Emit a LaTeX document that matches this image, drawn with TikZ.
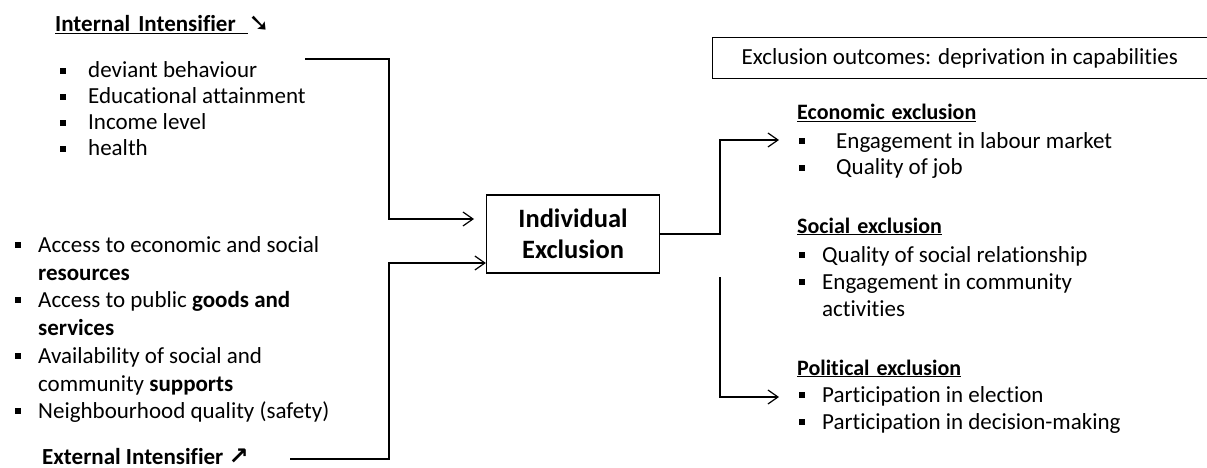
\documentclass[tikz,border=0pt]{standalone}
\usepackage{fontspec}
\setmainfont{Carlito}[Ligatures=NoCommon]
\newfontfamily\djv{DejaVu Sans}
\usetikzlibrary{arrows.meta}
\newcommand\bsq{\rule[4pt]{6pt}{6pt}}
\tikzset{
  txt/.style={anchor=base west, inner sep=0pt, font=\fontsize{23}{27}\selectfont},
  ttl/.style={txt, font=\fontsize{22}{26}\selectfont\bfseries},
  bul/.style={anchor=base west, inner sep=0pt, font=\fontsize{23}{27}\selectfont},
  conn/.style={line width=1.2pt},
  arr/.style={conn, -{Straight Barb[length=10pt,width=14pt,line width=1.2pt]}},
  boxed/.style={draw, line width=1.2pt, inner sep=0pt}
}
\begin{document}
\begin{tikzpicture}[x=1pt,y=-1pt]
\useasboundingbox (0,0) rectangle (1207,468);
% Internal intensifier
\node[ttl, font=\fontsize{23}{27}\selectfont\bfseries] (intT) at (55,32) {\underline{Internal\hspace{8pt}Intensifier\hspace{12pt}}\hspace{1pt}{\djv\bfseries\fontsize{25}{27}\selectfont ➘}};
\node[bul] (ib1) at (60,78) {\bsq}; \node[txt] (i1) at (88,78) {deviant behaviour};
\node[bul] (ib2) at (60,104) {\bsq}; \node[txt] (i2) at (88,104) {Educational attainment};
\node[bul] (ib3) at (60,130) {\bsq}; \node[txt] (i3) at (88,130) {Income level};
\node[bul] (ib4) at (60,156) {\bsq}; \node[txt] (i4) at (88,156) {health};
% External intensifier
\node[bul] (eb1) at (15,252) {\bsq}; \node[txt] (e1) at (38,252) {Access to economic and social};
\node[txt] (e1b) at (38,280) {\textbf{resources}};
\node[bul] (eb2) at (15,307) {\bsq}; \node[txt] (e2) at (38,307) {Access to public \textbf{goods and}};
\node[txt] (e2b) at (38,335) {\textbf{services}};
\node[bul] (eb3) at (15,363) {\bsq}; \node[txt] (e3) at (38,363) {Availability of social and};
\node[txt] (e3b) at (38,391) {community \textbf{supports}};
\node[bul] (eb4) at (15,418) {\bsq}; \node[txt] (e4) at (38,418) {Neighbourhood quality (safety)};
\node[ttl, font=\fontsize{23}{27}\selectfont\bfseries] (extT) at (42,464) {External Intensifier {\djv\fontsize{24}{26}\selectfont ↗}};
% Central box
\node[boxed, minimum width=173pt, minimum height=78pt, align=center,
  font=\fontsize{26.5}{31}\selectfont\bfseries] (ind) at (573,234) {Individual\\Exclusion};
% Outcomes box
\node[boxed, anchor=north west, minimum height=41pt, minimum width=520pt,
  font=\fontsize{23}{27}\selectfont] (out) at (712,37)
  {\makebox[520pt][l]{\hspace{29pt}Exclusion outcomes: deprivation in capabilities}};
% Economic
\node[ttl] (ecoT) at (797,120) {\underline{Economic\hspace{7pt}exclusion}};
\node[bul] (cb1) at (799,148) {\bsq}; \node[txt] (c1) at (836,148) {Engagement in labour market};
\node[bul] (cb2) at (799,175) {\bsq}; \node[txt] (c2) at (836,175) {Quality of job};
% Social
\node[ttl] (socT) at (797,233) {\underline{Social\hspace{7pt}exclusion}};
\node[bul] (sb1) at (799,262) {\bsq}; \node[txt] (s1) at (822,262) {Quality of social relationship};
\node[bul] (sb2) at (799,289) {\bsq}; \node[txt] (s2) at (822,289) {Engagement in community};
\node[txt] (s2b) at (822,316) {activities};
% Political
\node[ttl] (polT) at (797,375) {\underline{Political\hspace{7pt}exclusion}};
\node[bul] (pb1) at (799,402) {\bsq}; \node[txt] (p1) at (822,402) {Participation in election};
\node[bul] (pb2) at (799,429) {\bsq}; \node[txt] (p2) at (822,429) {Participation in decision-making};
% connectors
\coordinate (iStart) at (305,59);
\coordinate (iEnd) at (474,219);
\draw[arr] (iStart) -- (389,59) -- (389,219) -- (iEnd);
\coordinate (eStart) at (290,459);
\draw[arr] (eStart) -- (389,459) -- (389,263) -- (ind.west |- 0,263);
\coordinate (ecoEnd) at (779,140);
\draw[arr] (ind.east) -- (720,234) -- (720,140) -- (ecoEnd);
\coordinate (polStart) at (720,277);
\coordinate (polEnd) at (779,397);
\draw[arr] (polStart) -- (720,397) -- (polEnd);
\end{tikzpicture}
\end{document}
